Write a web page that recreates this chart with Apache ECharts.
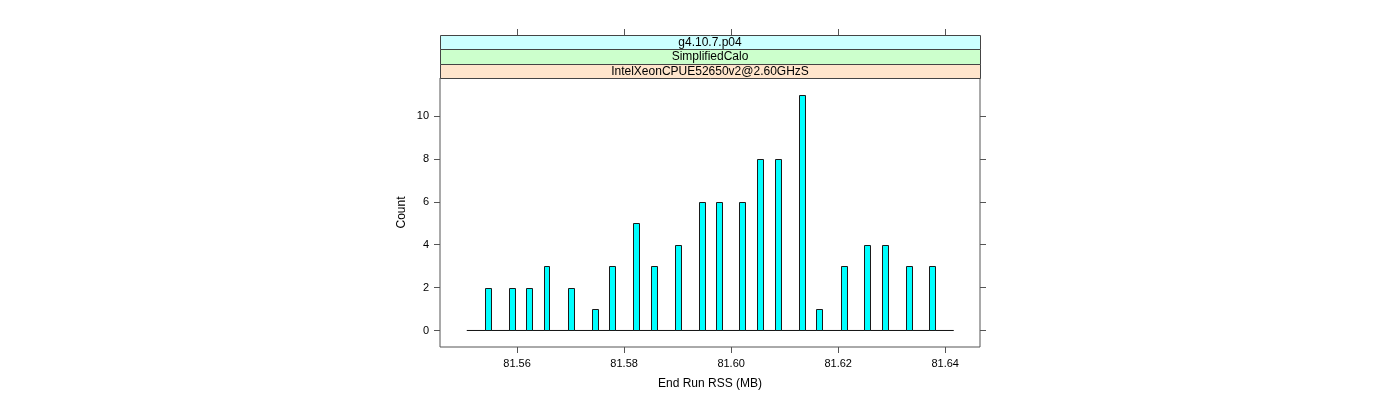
<!DOCTYPE html>
<html>
<head>
<meta charset="utf-8">
<script src="https://cdn.jsdelivr.net/npm/echarts@6/dist/echarts.min.js"></script>
<style>html,body{margin:0;padding:0;background:#fff;}#c{width:1400px;height:400px;}</style>
</head>
<body>
<div id="c"></div>
<script>
// Histogram bin centres (MB) and counts
const binCenters = [81.5546, 81.5590, 81.5623, 81.5655, 81.5701, 81.5745, 81.5778, 81.5822, 81.5856, 81.5900, 81.5945,
  81.5978, 81.6021, 81.6054, 81.6088, 81.6132, 81.6165, 81.6210, 81.6254, 81.6287, 81.6332, 81.6376];
const counts = [2, 2, 2, 3, 2, 1, 3, 5, 3, 4, 6, 6, 6, 8, 8, 11, 1, 3, 4, 4, 3, 3];
const binWidth = 0.00112;
const histRange = [81.5506, 81.6416];
const xTicks = [81.56, 81.58, 81.60, 81.62, 81.64];
const yTicks = [0, 2, 4, 6, 8, 10];
const xLimits = [81.5456, 81.6465];
const yLimits = [-0.77, 11.77];
const strips = ['g4.10.7.p04', 'SimplifiedCalo', 'IntelXeonCPUE52650v2@2.60GHzS'];
const stripColors = ['#CCFFFF', '#CCFFCC', '#FFE5CC'];
const xTitle = 'End Run RSS (MB)';
const yTitle = 'Count';

const FONT = '"Liberation Sans", Arial, Helvetica, sans-serif';
const chart = echarts.init(document.getElementById('c'));

const P = {left: 440, top: 78, right: 980, bottom: 347};
const stripH = 14.33;
const graphics = [];
strips.forEach((s, i) => {
  const y = P.top - (strips.length - i) * stripH;
  graphics.push({
    type: 'rect', z: 10,
    shape: {x: P.left + 0.5, y: Math.round(y) + 0.5, width: P.right - P.left, height: Math.round(y + stripH) - Math.round(y)},
    style: {fill: stripColors[i], stroke: '#444', lineWidth: 1}
  });
  graphics.push({
    type: 'text', z: 11,
    x: (P.left + P.right) / 2, y: y + stripH / 2 + 0.5,
    style: {text: s, fill: '#000', font: '12px ' + FONT, align: 'center', verticalAlign: 'middle'}
  });
});

const tickStyle = {show: true, inside: false, length: 6, lineStyle: {color: '#555', width: 1}};

chart.setOption({
  animation: false,
  backgroundColor: '#fff',
  grid: {left: P.left, top: P.top, width: P.right - P.left, height: P.bottom - P.top,
    show: true, borderColor: '#555', borderWidth: 1, backgroundColor: 'transparent'},
  xAxis: [{
    type: 'value', min: xLimits[0], max: xLimits[1], position: 'bottom',
    axisLine: {show: false, onZero: false}, splitLine: {show: false},
    axisTick: Object.assign({customValues: xTicks}, tickStyle),
    axisLabel: {customValues: xTicks, formatter: v => v.toFixed(2), color: '#000', fontSize: 11, fontFamily: FONT, margin: 11},
    name: xTitle, nameLocation: 'middle', nameGap: 31,
    nameTextStyle: {color: '#000', fontSize: 12, fontFamily: FONT}
  }, {
    type: 'value', min: xLimits[0], max: xLimits[1], position: 'top', offset: P.top - 35,
    axisLine: {show: false, onZero: false}, splitLine: {show: false},
    axisTick: Object.assign({customValues: xTicks}, tickStyle),
    axisLabel: {show: false}
  }],
  yAxis: [{
    type: 'value', min: yLimits[0], max: yLimits[1], position: 'left',
    axisLine: {show: false, onZero: false}, splitLine: {show: false},
    axisTick: Object.assign({customValues: yTicks}, tickStyle),
    axisLabel: {customValues: yTicks, color: '#000', fontSize: 11, fontFamily: FONT, margin: 11},
    name: yTitle, nameLocation: 'middle', nameGap: 32,
    nameTextStyle: {color: '#000', fontSize: 12, fontFamily: FONT}
  }, {
    type: 'value', min: yLimits[0], max: yLimits[1], position: 'right',
    axisLine: {show: false, onZero: false}, splitLine: {show: false},
    axisTick: Object.assign({customValues: yTicks}, tickStyle),
    axisLabel: {show: false}
  }],
  graphic: graphics,
  series: [{
    type: 'line', xAxisIndex: 0, yAxisIndex: 0, symbol: 'none', silent: true, z: 1,
    data: [[histRange[0], 0], [histRange[1], 0]],
    lineStyle: {color: '#111', width: 1}
  }, {
    type: 'custom', xAxisIndex: 0, yAxisIndex: 0, z: 2,
    data: binCenters.map((x, i) => [x, counts[i]]),
    renderItem: function (params, api) {
      const x = api.value(0), c = api.value(1);
      const p0 = api.coord([x - binWidth / 2, c]);
      const p1 = api.coord([x + binWidth / 2, 0]);
      const x0 = Math.round(p0[0]) + 0.5, x1 = Math.round(p1[0]) + 0.5;
      const y0 = Math.round(p0[1]) + 0.5, y1 = Math.round(p1[1]) + 0.5;
      return {type: 'rect', shape: {x: x0, y: y0, width: x1 - x0, height: y1 - y0},
        style: {fill: '#00FFFF', stroke: '#1a1a1a', lineWidth: 1}};
    }
  }]
});
</script>
</body>
</html>
